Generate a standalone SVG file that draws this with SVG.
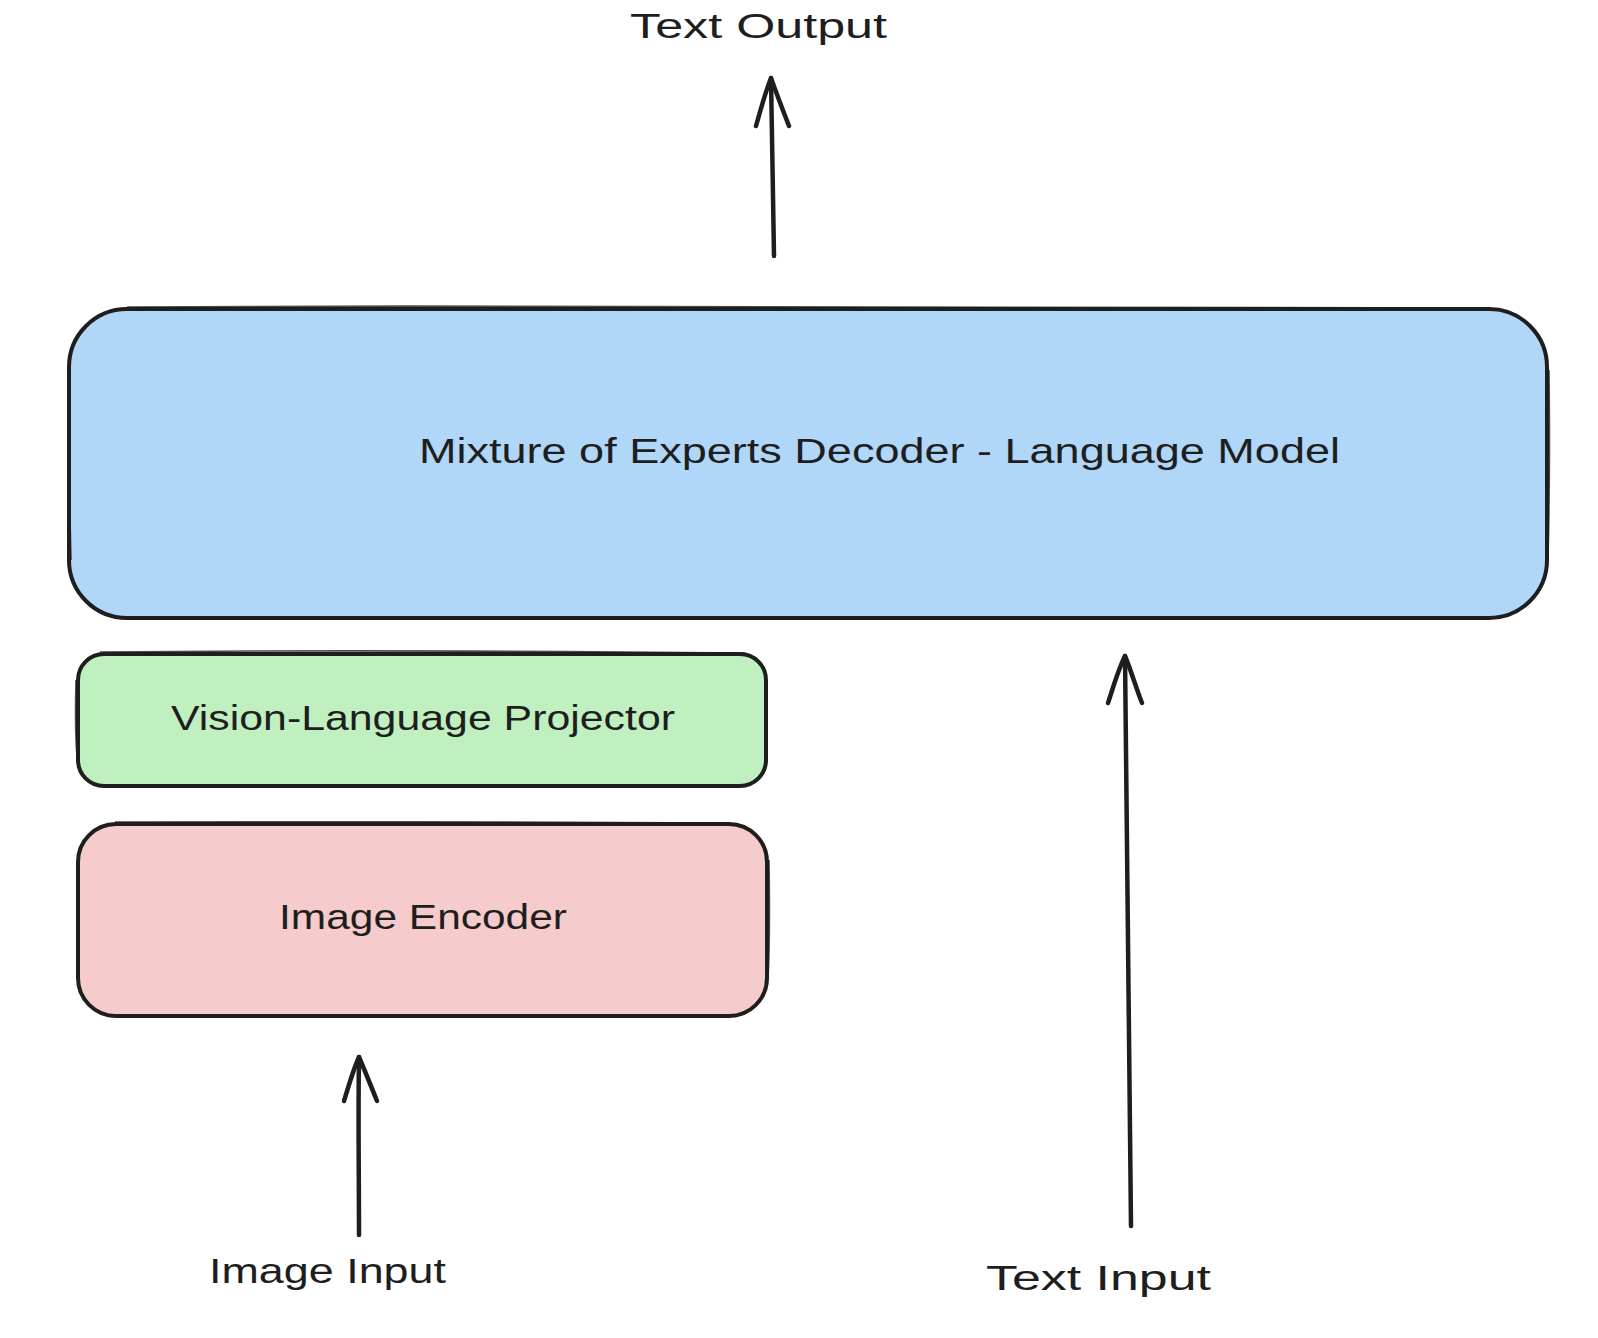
<svg xmlns="http://www.w3.org/2000/svg" width="1598" height="1338" viewBox="0 0 1598 1338">
<style>
.box{stroke:#1e1e1e;stroke-width:4;stroke-linejoin:round}
.sk{fill:none;stroke:#1e1e1e;stroke-width:1.6;opacity:0.8}
.lbl{font-family:"Liberation Sans","DejaVu Sans",sans-serif;font-size:35px;fill:#1e1e1e;text-anchor:start}
.conn{fill:none;stroke:#1e1e1e;stroke-width:4.5;stroke-linecap:round;stroke-linejoin:round}
</style>
<rect width="1598" height="1338" fill="#ffffff"/>
<g id="node-moe">
<rect class="box" x="69" y="309" width="1478" height="309" rx="58" fill="#b0d6f8"/>
<path class="sk" d="M127 307 C600 305 1100 306 1490 308 M1549 370 C1550 450 1549 520 1548 560 M70 365 C68 450 70 520 71 560"/>
<text class="lbl" x="419" y="463" textLength="921" lengthAdjust="spacingAndGlyphs">Mixture of Experts Decoder - Language Model</text>
</g>
<g id="node-projector">
<rect class="box" x="78" y="654" width="688" height="132" rx="26" fill="#c0f0c0"/>
<path class="sk" d="M100 652 C300 650 550 651 745 653 M76 680 C75 720 76 750 78 765"/>
<text class="lbl" x="171" y="730" textLength="504" lengthAdjust="spacingAndGlyphs">Vision-Language Projector</text>
</g>
<g id="node-encoder">
<rect class="box" x="78" y="824" width="689" height="192" rx="38" fill="#f6cbcb"/>
<path class="sk" d="M115 822 C300 821 550 822 730 823 M769 860 C770 920 769 960 768 980"/>
<text class="lbl" x="279" y="929" textLength="288" lengthAdjust="spacingAndGlyphs">Image Encoder</text>
</g>
<g id="label-text-output">
<text class="lbl" x="630" y="38" textLength="257" lengthAdjust="spacingAndGlyphs">Text Output</text>
</g>
<g id="label-image-input">
<text class="lbl" x="209" y="1283" textLength="237" lengthAdjust="spacingAndGlyphs">Image Input</text>
</g>
<g id="label-text-input">
<text class="lbl" x="986" y="1290" textLength="225" lengthAdjust="spacingAndGlyphs">Text Input</text>
</g>
<g id="connectors">
<path class="conn" d="M774 256 C773 200 772 130 771 78"/>
<path class="conn" d="M756 126 C762 105 766 90 771 78 C776 92 782 108 789 126"/>
<path class="conn" d="M359 1235 C359 1180 358 1110 359 1057"/>
<path class="conn" d="M344 1101 C349 1085 353 1070 359 1057 C365 1071 371 1086 377 1101"/>
<path class="conn" d="M1131 1226 C1129 1000 1127 800 1125 656"/>
<path class="conn" d="M1108 703 C1113 688 1118 670 1125 656 C1131 670 1136 688 1142 703"/>
</g>
</svg>
